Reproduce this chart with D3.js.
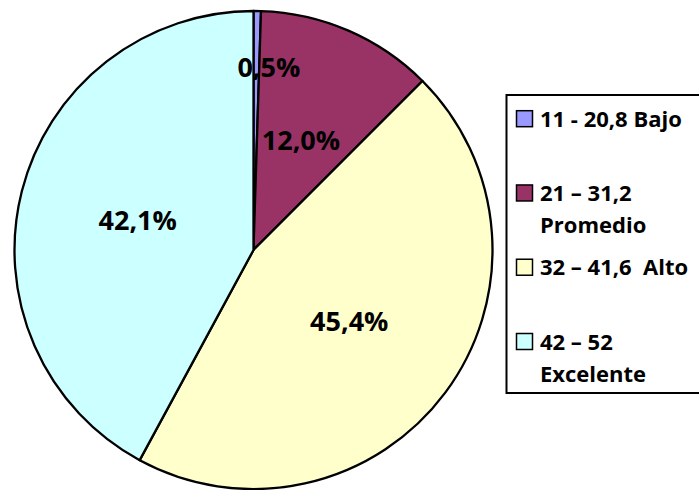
<!DOCTYPE html>
<html>
<head>
<meta charset="utf-8">
<script src="https://cdn.jsdelivr.net/npm/d3@7"></script>
<style>
  html, body { margin: 0; padding: 0; background: #ffffff; }
  svg { display: block; }
  text { font-family: "Open Sans", "Liberation Sans", sans-serif; font-weight: bold; fill: #000; }
</style>
</head>
<body>
<svg id="chart" width="699" height="490"></svg>
<script>
// Score ranges and share of students in each range (percent)
const categories = ["11 - 20,8 Bajo", "21 – 31,2 Promedio", "32 – 41,6  Alto", "42 – 52 Excelente"];
const legendLines = [["11 - 20,8 Bajo"], ["21 – 31,2", "Promedio"], ["32 – 41,6  Alto"], ["42 – 52", "Excelente"]];
const values = [0.5, 12.0, 45.4, 42.1];
const valueLabels = ["0,5%", "12,0%", "45,4%", "42,1%"];
const colors = ["#9999FF", "#993366", "#FFFFCC", "#CCFFFF"];

const svg = d3.select("#chart");
const cx = 253.5, cy = 250, radius = 239;

const color = d3.scaleOrdinal().domain(categories).range(colors);

const pie = d3.pie().sort(null).value(d => d.value);
const arcs = pie(categories.map((c, i) => ({ name: c, value: values[i], label: valueLabels[i] })));

const arc = d3.arc().innerRadius(0).outerRadius(radius);
const labelArc = d3.arc().innerRadius(radius * 0.5).outerRadius(radius * 0.5);
const smallLabelArc = d3.arc().innerRadius(radius * 0.765).outerRadius(radius * 0.765);

const g = svg.append("g").attr("transform", `translate(${cx},${cy})`);

g.selectAll("path.slice")
  .data(arcs)
  .join("path")
  .attr("class", "slice")
  .attr("d", arc)
  .attr("fill", d => color(d.data.name))
  .attr("stroke", "#000")
  .attr("stroke-width", 2.3)
  .attr("stroke-linejoin", "round");

// Percent labels; a very thin slice gets its label pushed outward and to the side
g.selectAll("text.pct")
  .data(arcs)
  .join("text")
  .attr("class", "pct")
  .attr("text-anchor", "middle")
  .attr("font-size", 27)
  .attr("dy", "0.36em")
  .attr("x", d => d.data.value < 1 ? smallLabelArc.centroid(d)[0] + 12.5 : labelArc.centroid(d)[0])
  .attr("y", d => d.data.value < 1 ? smallLabelArc.centroid(d)[1] : labelArc.centroid(d)[1])
  .text(d => d.data.label);

// Legend
const legend = svg.append("g");
legend.append("rect")
  .attr("x", 506.5).attr("y", 95)
  .attr("width", 220).attr("height", 298)
  .attr("fill", "#fff")
  .attr("stroke", "#000")
  .attr("stroke-width", 2);

const itemY = d3.scaleLinear().domain([0, categories.length - 1]).range([110.7, 333.5]);

const items = legend.selectAll("g.item")
  .data(categories)
  .join("g")
  .attr("class", "item")
  .attr("transform", (d, i) => `translate(516.5,${itemY(i)})`);

items.append("rect")
  .attr("width", 16).attr("height", 16)
  .attr("fill", d => color(d))
  .attr("stroke", "#000")
  .attr("stroke-width", 1.5);

items.append("text")
  .attr("x", 23.5)
  .attr("y", 16)
  .attr("font-size", 22)
  .style("white-space", "pre")
  .selectAll("tspan")
  .data((d, i) => legendLines[i])
  .join("tspan")
  .attr("x", 23.5)
  .attr("dy", (l, j) => j === 0 ? 0 : 32)
  .text(l => l);
</script>
</body>
</html>
